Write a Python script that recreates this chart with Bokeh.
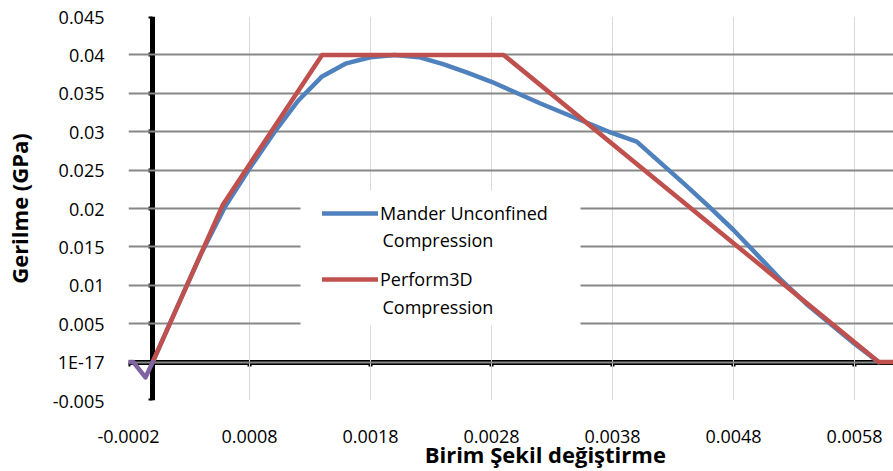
from bokeh.plotting import figure
from bokeh.models import (FixedTicker, LinearAxis, Range1d, CustomJSTickFormatter,
                          Legend, LegendItem, Label, BoxAnnotation)
from bokeh.embed import file_html
from bokeh.resources import INLINE

# ---------------- data ----------------
x_ticks = [-0.0002, 0.0008, 0.0018, 0.0028, 0.0038, 0.0048, 0.0058]
x_tick_labels = ["-0.0002", "0.0008", "0.0018", "0.0028", "0.0038", "0.0048", "0.0058"]
y_ticks = [-0.005, 0.0, 0.005, 0.01, 0.015, 0.02, 0.025, 0.03, 0.035, 0.04, 0.045]
y_tick_labels = ["-0.005", "1E-17", "0.005", "0.01", "0.015", "0.02", "0.025",
                 "0.03", "0.035", "0.04", "0.045"]

mander_strain = [0.0, 0.0002, 0.0004, 0.0006, 0.0008, 0.0010, 0.0012, 0.0014, 0.0016,
                 0.0018, 0.0020, 0.0022, 0.0024, 0.0026, 0.0028, 0.0030, 0.0032, 0.0034,
                 0.0036, 0.0038, 0.0040, 0.0042, 0.0044, 0.0046, 0.0048, 0.0050, 0.0052,
                 0.0054, 0.0056, 0.0058, 0.0060]
mander_stress = [0.0, 0.0071, 0.0141, 0.0203, 0.0252, 0.0298, 0.0340, 0.0372, 0.0389,
                 0.0397, 0.0400, 0.0397, 0.0388, 0.0377, 0.0365, 0.0351, 0.0337, 0.0324,
                 0.0311, 0.0298, 0.0287, 0.0259, 0.0231, 0.0202, 0.0172, 0.0139, 0.0106,
                 0.0076, 0.0050, 0.0024, 0.0]

perform_strain = [0.0, 0.00058, 0.0014, 0.0029, 0.0060, 0.0063]
perform_stress = [0.0, 0.0205, 0.040, 0.040, 0.0, 0.0]

tension_strain = [-0.0002, -0.00016, -0.00006, 0.0]
tension_stress = [0.0, 0.0, -0.002, 0.0]

legend_line1 = ["Mander Unconfined", "Perform3D"]
legend_line2 = ["Compression", "Compression"]
x_title = "Birim Şekil değiştirme"
y_title = "Gerilme (GPa)"

# ---------------- layout ----------------
W, H = 893, 471
BL, BR, BT, BB = 128, 0, 16, 71
FW, FH = W - BL - BR, H - BT - BB
X0 = -0.0002
X1 = X0 + FW / 121000.0
Y0, Y1 = -0.005, 0.045


def px2x(px):
    return X0 + (px - BL) / FW * (X1 - X0)


def px2y(py):
    return Y1 - (py - BT) / FH * (Y1 - Y0)


FONT = "Open Sans"

p = figure(width=W, height=H, x_range=Range1d(X0, X1), y_range=Range1d(Y0, Y1),
           output_backend="svg", toolbar_location=None,
           min_border_left=BL, min_border_right=BR, min_border_top=BT, min_border_bottom=BB,
           outline_line_color=None, background_fill_color="white", border_fill_color="white")

xt = FixedTicker(ticks=x_ticks, minor_ticks=[])
yt = FixedTicker(ticks=y_ticks, minor_ticks=[])
fmt_code = """
let best = 0;
for (let i = 0; i < vals.length; i++) {
  if (Math.abs(vals[i] - tick) < Math.abs(vals[best] - tick)) best = i;
}
return labels[best];
"""
xfmt = CustomJSTickFormatter(args=dict(vals=x_ticks, labels=x_tick_labels), code=fmt_code)
yfmt = CustomJSTickFormatter(args=dict(vals=y_ticks, labels=y_tick_labels), code=fmt_code)

xa = p.xaxis[0]
ya = p.yaxis[0]
for ax, tk, fm in ((xa, xt, xfmt), (ya, yt, yfmt)):
    ax.ticker = tk
    ax.formatter = fm
    ax.axis_line_color = None
    ax.major_tick_line_color = None
    ax.minor_tick_line_color = None
    ax.major_tick_out = 0
    ax.major_tick_in = 0
    ax.major_label_text_font = FONT
    ax.major_label_text_font_size = "18px"
    ax.major_label_text_color = "black"
    ax.axis_label_text_font = FONT
    ax.axis_label_text_font_size = "22px"
    ax.axis_label_text_font_style = "bold"
    ax.axis_label_text_color = "black"
xa.major_label_standoff = 29
ya.major_label_standoff = 24
xa.axis_label = "\u00a0" * 12 + x_title
xa.axis_label_standoff = -7
ya.axis_label = y_title
ya.axis_label_standoff = 16

p.xgrid.ticker = xt
p.ygrid.ticker = yt
p.xgrid.grid_line_color = "#d9d9d9"
p.xgrid.grid_line_width = 1
p.ygrid.grid_line_color = "#878787"
p.ygrid.grid_line_width = 2

# axes crossing at zero
ax0 = LinearAxis(fixed_location=0, ticker=xt, axis_line_width=5, axis_line_color="black",
                 major_tick_out=4, major_tick_in=0, major_tick_line_width=4,
                 major_tick_line_color="black", minor_tick_line_color=None,
                 major_label_text_color=None, level="underlay")
ay0 = LinearAxis(fixed_location=0, ticker=yt, axis_line_width=5, axis_line_color="black",
                 major_tick_out=4, major_tick_in=0, major_tick_line_width=4,
                 major_tick_line_color="black", minor_tick_line_color=None,
                 major_label_text_color=None, level="underlay")
p.add_layout(ax0, "below")
p.add_layout(ay0, "left")

rb = p.line(mander_strain, mander_stress, line_color="#4F81BD", line_width=4.5,
            line_join="round", line_cap="round")
rr = p.line(perform_strain, perform_stress, line_color="#C0504D", line_width=4.5,
            line_join="round", line_cap="round")
p.line(tension_strain, tension_stress, line_color="#8064A2", line_width=4.5,
       line_join="round", line_cap="round")

box = BoxAnnotation(left=px2x(300), right=px2x(580), top=px2y(190), bottom=px2y(325),
                    fill_color="white", fill_alpha=1, line_color=None)
p.add_layout(box)

legend = Legend(items=[LegendItem(label=legend_line1[0], renderers=[rb]),
                       LegendItem(label=legend_line1[1], renderers=[rr])],
                location=(194, 109), glyph_width=56, glyph_height=20, label_standoff=2,
                spacing=42, padding=8, margin=0, border_line_color=None,
                background_fill_alpha=0,
                label_text_font=FONT, label_text_font_size="18px",
                label_text_color="black")
p.add_layout(legend)

for txt, py in ((legend_line2[0], 239), (legend_line2[1], 306)):
    p.add_layout(Label(x=px2x(382), y=px2y(py), text=txt, text_font=FONT,
                       text_font_size="18px", text_align="left", text_baseline="middle",
                       text_color="black"))

open("out.html", "w").write(file_html(p, INLINE))
